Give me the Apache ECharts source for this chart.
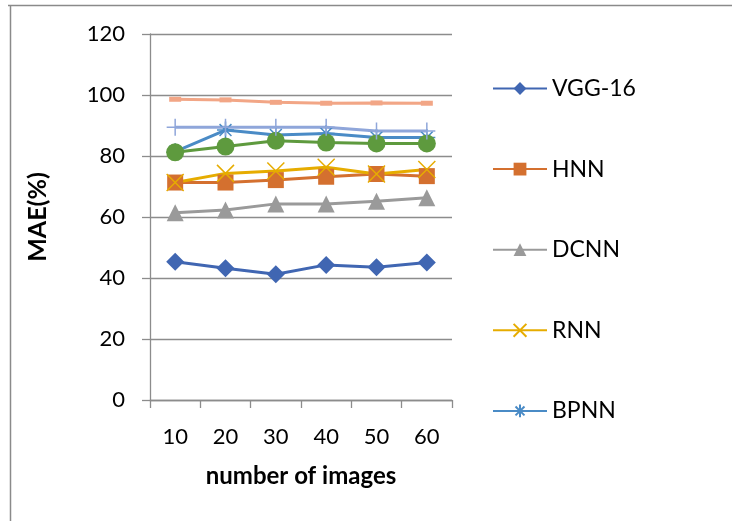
<!DOCTYPE html>
<html>
<head>
<meta charset="utf-8">
<script src="https://cdn.jsdelivr.net/npm/echarts@6/dist/echarts.min.js"></script>
<style>
html,body{margin:0;padding:0;background:#fff;}
#chart{width:732px;height:521px;}
</style>
</head>
<body>
<div id="chart"></div>
<script>
var categories = ['10', '20', '30', '40', '50', '60'];
var yTicks = [0, 20, 40, 60, 80, 100, 120];
var legendNames = ['VGG-16', 'HNN', 'DCNN', 'RNN', 'BPNN'];

var vgg16 = [45.3, 43.2, 41.2, 44.3, 43.5, 45.1];
var hnn   = [71.3, 71.3, 72.1, 73.2, 74.1, 73.4];
var dcnn  = [61.4, 62.3, 64.3, 64.3, 65.2, 66.3];
var rnn   = [71.3, 74.3, 75.1, 76.3, 74.1, 75.6];
var bpnn  = [81.4, 88.5, 86.9, 87.4, 86.1, 86.1];
var series6 = [81.2, 83.1, 85.0, 84.4, 84.1, 84.1];
var series7 = [89.4, 89.4, 89.4, 89.4, 88.2, 88.2];
var series8 = [98.6, 98.4, 97.6, 97.3, 97.4, 97.3];

var FONT = 'Lato, "Open Sans", sans-serif';
var crossPath = 'path://M0,0L10,10M10,0L0,10';
var starPath = 'path://M5,0L5,10M0,5L10,5M1.5,1.5L8.5,8.5M8.5,1.5L1.5,8.5';
var plusPath = 'path://M5,0L5,10M0,5L10,5';

function lineSeries(name, data, color, symbol, size, extra) {
  var s = {
    name: name, type: 'line', data: data,
    symbol: symbol, symbolSize: size, showSymbol: symbol !== 'none',
    lineStyle: { color: color, width: 3 },
    itemStyle: { color: color },
    emphasis: { disabled: true },
    animation: false
  };
  if (extra) { for (var k in extra) s[k] = extra[k]; }
  return s;
}
function strokeMarker(color) {
  return { itemStyle: { color: 'rgba(0,0,0,0)', borderColor: color, borderWidth: 1.5 } };
}

var chart = echarts.init(document.getElementById('chart'));
chart.setOption({
  backgroundColor: '#fff',
  animation: false,
  grid: { left: 150, top: 34, width: 302, height: 366, containLabel: false },
  legend: {
    data: legendNames,
    orient: 'vertical',
    left: 492, top: 77, padding: 0,
    itemWidth: 54, itemHeight: 16, itemGap: 57.6,
    textStyle: { fontFamily: FONT, fontSize: 23, color: '#000' }
  },
  xAxis: {
    type: 'category', data: categories, boundaryGap: true,
    name: 'number of images', nameLocation: 'middle', nameGap: 64,
    nameTextStyle: { fontFamily: FONT, fontSize: 24, fontWeight: 'bold', color: '#000' },
    axisLine: { lineStyle: { color: '#8c8c8c', width: 1.3 } },
    axisTick: { show: true, inside: false, length: 8, alignWithLabel: false, lineStyle: { color: '#8c8c8c', width: 1.3 } },
    axisLabel: { fontFamily: FONT, fontSize: 22, color: '#000', margin: 26 },
    splitLine: { show: false }
  },
  yAxis: {
    type: 'value', min: yTicks[0], max: yTicks[yTicks.length - 1], interval: 20,
    name: 'MAE(%)', nameLocation: 'middle', nameGap: 100, nameRotate: 90,
    nameTextStyle: { fontFamily: FONT, fontSize: 25, fontWeight: 'bold', color: '#000' },
    axisLine: { show: true, lineStyle: { color: '#8c8c8c', width: 1.3 } },
    axisTick: { show: true, inside: false, length: 8, lineStyle: { color: '#8c8c8c', width: 1.3 } },
    axisLabel: { fontFamily: FONT, fontSize: 22, color: '#000', margin: 25,
      formatter: function (v) { return yTicks.indexOf(v) >= 0 ? String(v) : ''; } },
    splitLine: { show: true, lineStyle: { color: '#8c8c8c', width: 1.3 } }
  },
  graphic: [
    { type: 'line', shape: { x1: 8, y1: 5.5, x2: 732, y2: 5.5 }, style: { stroke: '#8a8a8a', lineWidth: 1.5 }, silent: true },
    { type: 'line', shape: { x1: 10.5, y1: 5, x2: 10.5, y2: 521 }, style: { stroke: '#8a8a8a', lineWidth: 1.5 }, silent: true }
  ],
  series: [
    lineSeries('VGG-16', vgg16, '#4066B2', 'diamond', 18),
    lineSeries('HNN', hnn, '#D4702F', 'rect', 16),
    lineSeries('DCNN', dcnn, '#9A9A9A', 'triangle', 17),
    lineSeries('RNN', rnn, '#E6AC00', crossPath, 17, strokeMarker('#E6AC00')),
    lineSeries('BPNN', bpnn, '#4A8BC6', starPath, 17, strokeMarker('#4A8BC6')),
    lineSeries('Series6', series6, '#5E9A3E', 'circle', 18),
    lineSeries('Series7', series7, '#8FA6DA', plusPath, 17, strokeMarker('#8FA6DA')),
    lineSeries('Series8', series8, '#F2A686', 'rect', [12, 5])
  ]
});
</script>
</body>
</html>
